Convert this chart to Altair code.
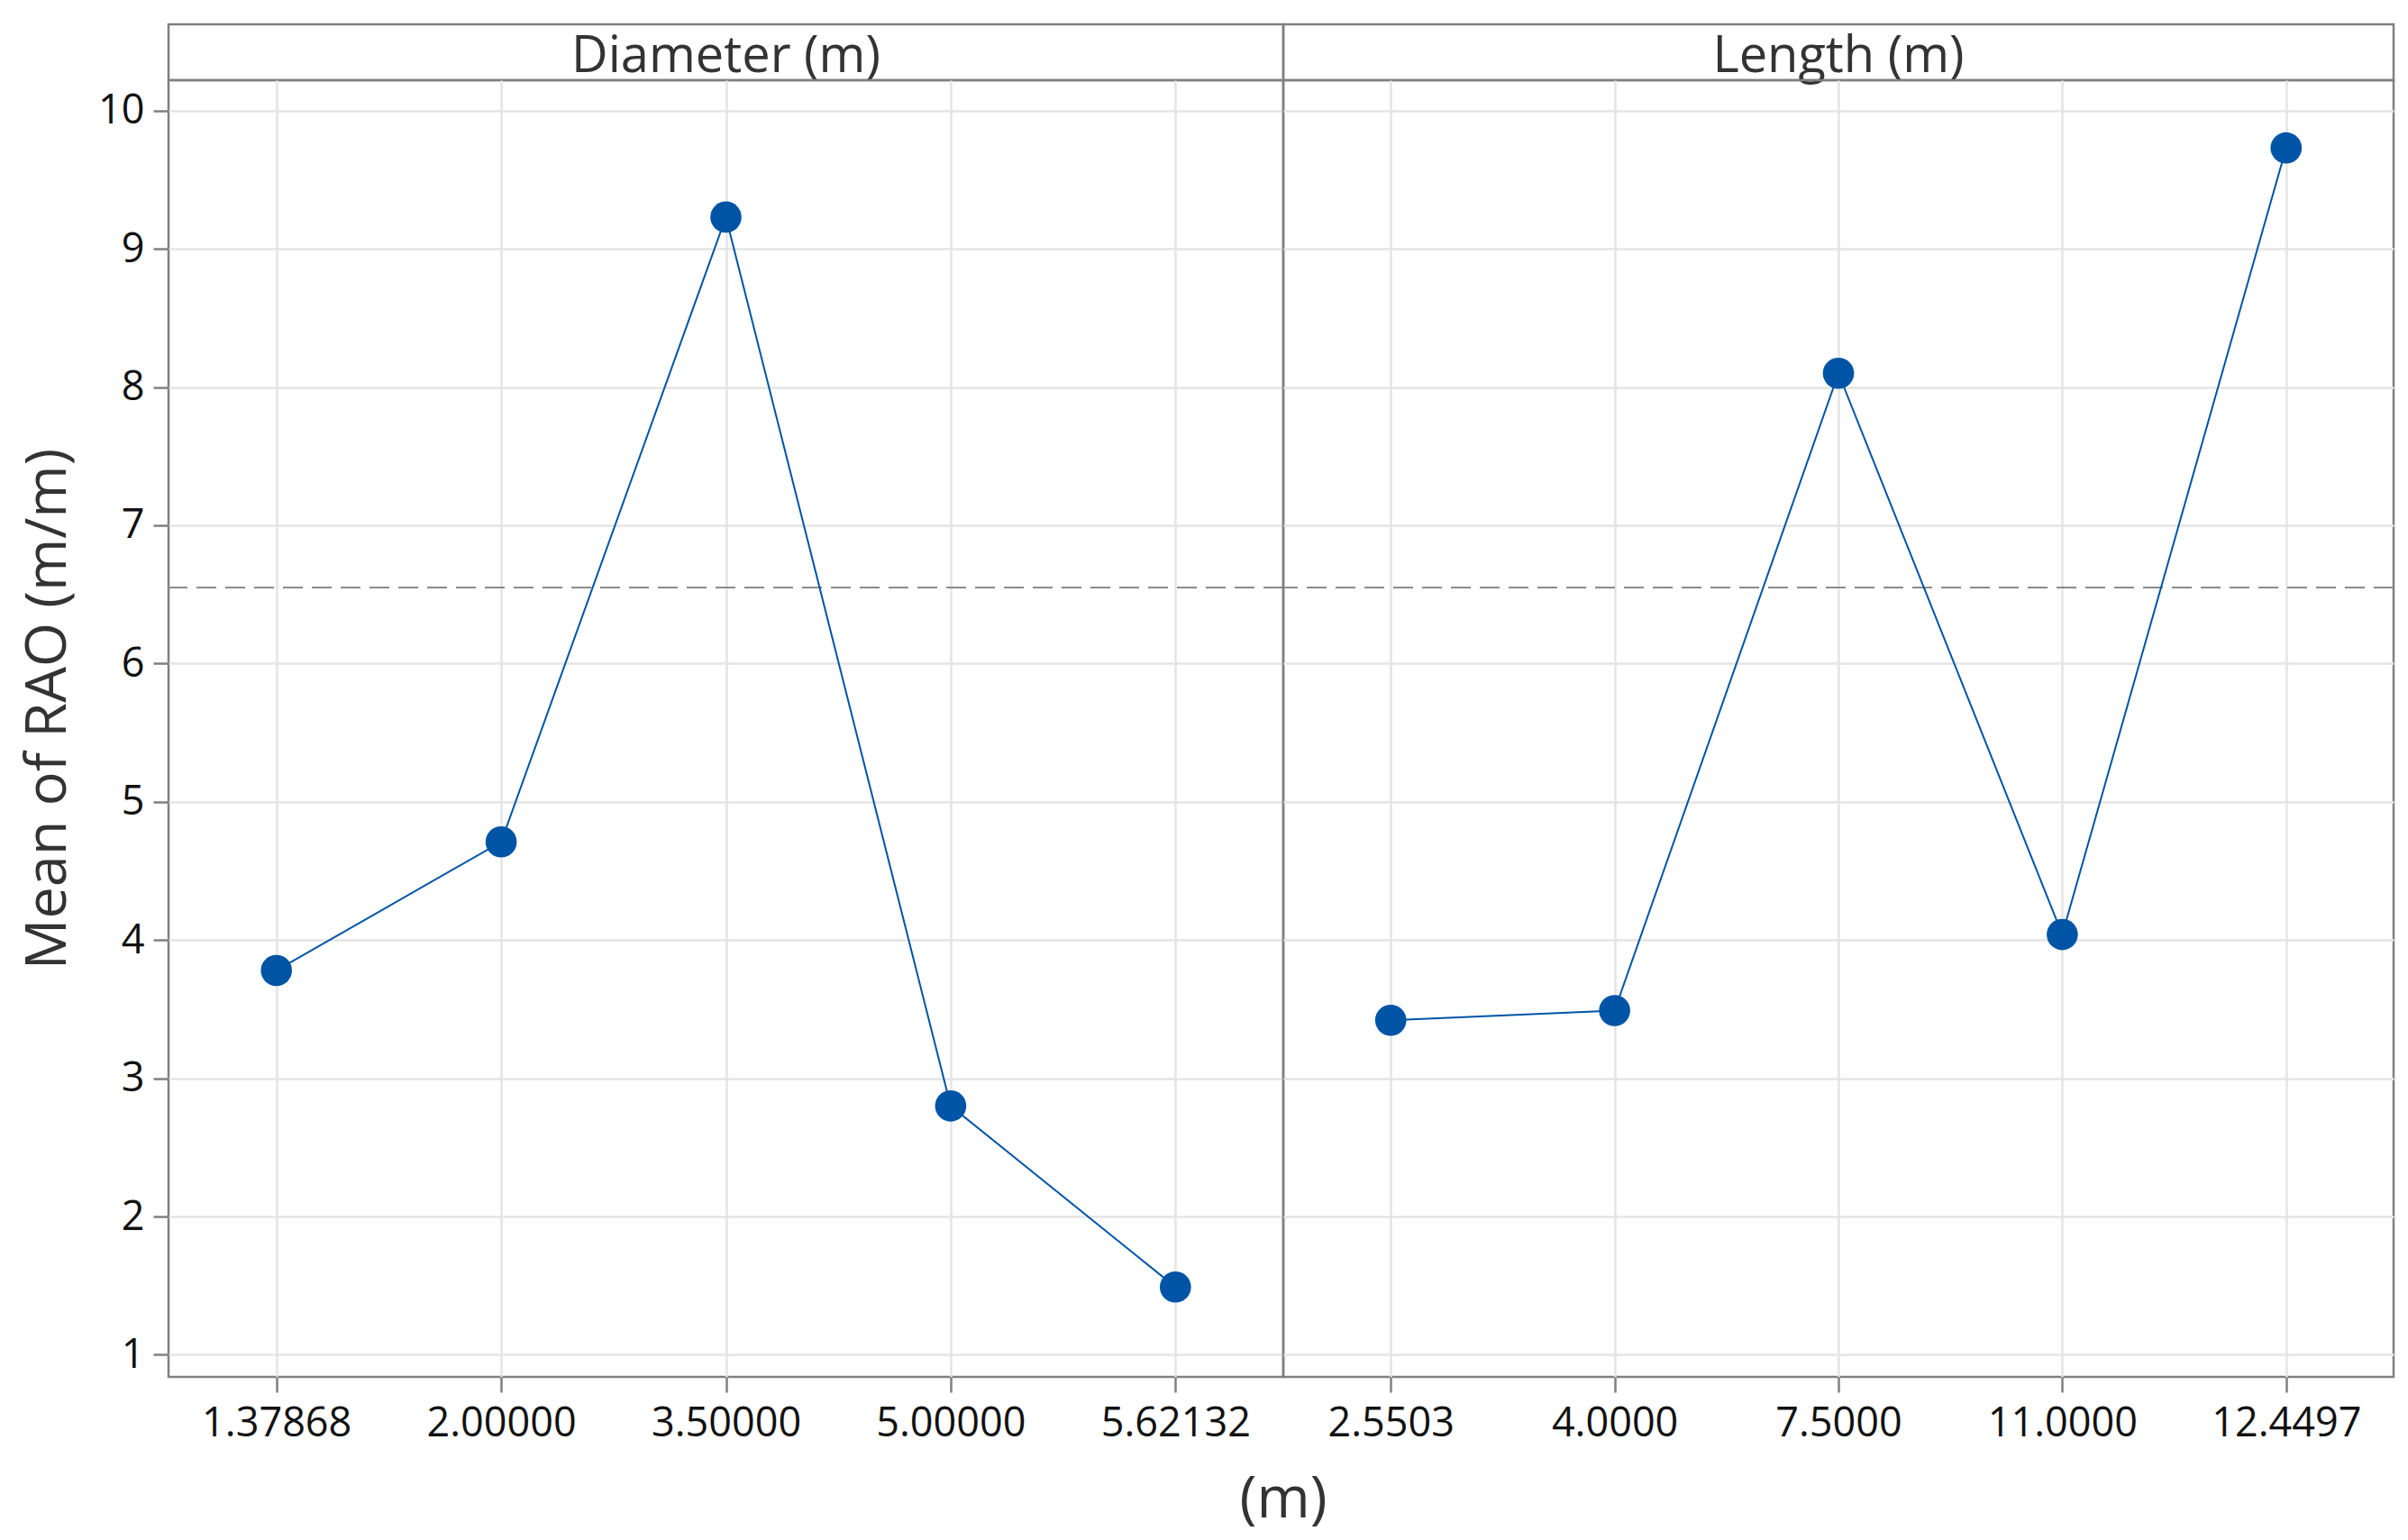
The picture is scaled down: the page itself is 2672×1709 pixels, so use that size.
import altair as alt
import pandas as pd

# ---- data ----
panel_titles = ["Diameter (m)", "Length (m)"]
diam_levels = ["1.37868", "2.00000", "3.50000", "5.00000", "5.62132"]
diam_means = [3.78, 4.71, 9.23, 2.80, 1.49]
len_levels = ["2.5503", "4.0000", "7.5000", "11.0000", "12.4497"]
len_means = [3.42, 3.49, 8.10, 4.04, 9.73]
grand_mean = [6.55]
y_ticks = [1, 2, 3, 4, 5, 6, 7, 8, 9, 10]
y_title = "Mean of RAO (m/m)"
x_title = "(m)"

# ---- style ----
FONT = "Open Sans"
BLUE = "#0054A6"
FRAME = "#808080"
GRID = "#e4e4e4"
W1 = 1237
W2 = 1232
H = 1439
STRIP_H = 62
Y_DOMAIN = [0.84, 10.22]


def panel(levels, means, show_y, width):
    df = pd.DataFrame({"level": levels, "mean": means})
    x = alt.X(
        "level:O",
        sort=levels,
        scale=alt.Scale(type="point", padding=0.48),
        axis=alt.Axis(
            title=None, labelAngle=0, grid=True, gridColor=GRID, gridWidth=2.5,
            domain=False, ticks=True, tickSize=17, tickWidth=2.5, tickColor=FRAME,
            labelFont=FONT, labelFontSize=45, labelColor="#111111", labelPadding=12,
        ),
    )
    if show_y:
        yaxis = alt.Axis(
            title=y_title, values=y_ticks, grid=True, gridColor=GRID, gridWidth=2.5,
            domain=False, tickSize=17, tickWidth=2.5, tickColor=FRAME,
            labelFont=FONT, labelFontSize=45, labelColor="#111111", labelPadding=10,
            titleFont=FONT, titleFontSize=63, titleFontWeight="normal",
            titleColor="#333333", titlePadding=23, titleY=H / 2 - 22,
        )
    else:
        yaxis = alt.Axis(
            title=None, values=y_ticks, grid=True, gridColor=GRID, gridWidth=2.5,
            domain=False, ticks=False, labels=False,
        )
    y = alt.Y("mean:Q", scale=alt.Scale(domain=Y_DOMAIN, nice=False, zero=False), axis=yaxis)
    base = alt.Chart(df)
    line = base.mark_line(color=BLUE, strokeWidth=2).encode(x=x, y=y)
    pts = base.mark_point(filled=True, shape="circle", size=1200, color=BLUE, opacity=1).encode(x=x, y=y)
    ref = alt.Chart(pd.DataFrame({"mean": grand_mean})).mark_rule(
        color="#8a8a8a", strokeWidth=2, strokeDash=[22, 10]
    ).encode(y=y)
    return alt.layer(ref, line, pts).properties(width=width, height=H)


def strip(title, width):
    return alt.Chart(pd.DataFrame({"t": [title]})).mark_text(
        font=FONT, fontSize=56, color="#333333", baseline="middle"
    ).encode(
        text="t:N", x=alt.value(width / 2), y=alt.value(STRIP_H / 2 + 5)
    ).properties(width=width, height=STRIP_H)


chart = alt.concat(
    strip(panel_titles[0], W1),
    strip(panel_titles[1], W2),
    panel(diam_levels, diam_means, True, W1),
    panel(len_levels, len_means, False, W2),
    columns=2,
    spacing=0,
    bounds="flush",
).properties(
    title=alt.TitleParams(
        x_title, orient="bottom", anchor="middle", frame="group", dx=W1,
        font=FONT, fontSize=64, fontWeight="normal", color="#333333", offset=30,
    ),
    padding={"left": 13, "top": 17, "right": 5, "bottom": 5},
    background="white",
).configure_view(
    stroke=FRAME, strokeWidth=2.5
)

chart.save("out.html", embed_options={"renderer": "svg", "actions": False})
